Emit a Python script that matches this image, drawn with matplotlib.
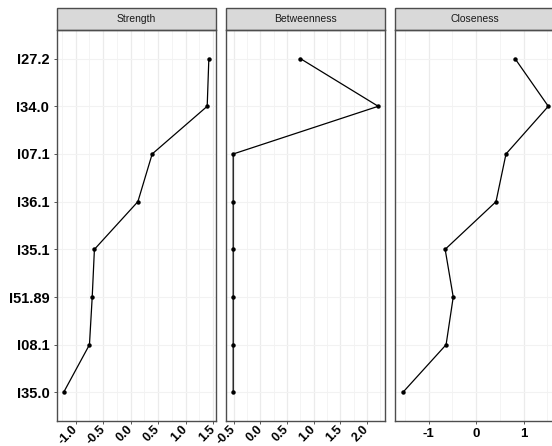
import matplotlib.pyplot as plt
from matplotlib.patches import Rectangle
from matplotlib.ticker import MultipleLocator

# nodes, top to bottom
nodes = ["I27.2", "I34.0", "I07.1", "I36.1", "I35.1", "I51.89", "I08.1", "I35.0"]

strength = [1.42, 1.39, 0.39, 0.13, -0.66, -0.70, -0.75, -1.22]
betweenness = [0.75, 2.21, -0.51, -0.51, -0.51, -0.51, -0.51, -0.51]
closeness = [0.82, 1.52, 0.63, 0.42, -0.65, -0.48, -0.63, -1.54]

titles = ["Strength", "Betweenness", "Closeness"]
series = [strength, betweenness, closeness]
xlims = [(-1.34, 1.55), (-0.645, 2.337), (-1.705, 1.64)]
majors = [0.5, 0.5, 1.0]

W, H = 552, 446
fig = plt.figure(figsize=(W / 100, H / 100), dpi=100)
fig.patch.set_facecolor("white")

lefts = [57, 226, 395]
pw = 159
top_px, bot_px = 30, 421
strip_h = 22

border = "#4D4D4D"
ypos = list(range(len(nodes), 0, -1))

for i in range(3):
    ax = fig.add_axes([lefts[i] / W, 1 - bot_px / H, pw / W, (bot_px - top_px) / H])
    ax.set_xlim(*xlims[i])
    ax.set_ylim(0.4, len(nodes) + 0.6)
    ax.xaxis.set_major_locator(MultipleLocator(majors[i]))
    ax.xaxis.set_minor_locator(MultipleLocator(majors[i] / 2))
    ax.grid(which="major", axis="x", color="#EBEBEB", lw=0.9)
    ax.grid(which="minor", axis="x", color="#F2F2F2", lw=0.6)
    ax.grid(which="major", axis="y", color="#F2F2F2", lw=0.8)
    ax.set_axisbelow(True)
    ax.plot(series[i], ypos, color="black", lw=0.9, marker="o", ms=3.2,
            markeredgewidth=0, zorder=3)
    ax.set_yticks(ypos)
    for s in ax.spines.values():
        s.set_color(border)
        s.set_linewidth(1.0)
    ax.tick_params(axis="both", which="major", length=2, color="#555555", width=0.7)
    ax.tick_params(axis="x", which="minor", length=0)
    if i == 0:
        ax.set_yticklabels(nodes, fontsize=10.5, fontweight="bold",
                           family=["Liberation Sans", "DejaVu Sans"])
    else:
        ax.set_yticklabels([])
        ax.tick_params(axis="y", length=0)
    if i < 2:
        labs = ["%.1f" % v for v in ax.get_xticks()]
        ax.set_xticks(ax.get_xticks())
        ax.set_xticklabels(labs, rotation=45, ha="right", va="center",
                           rotation_mode="anchor", fontsize=9, fontweight="bold",
                           family=["Liberation Sans Narrow", "Liberation Sans", "DejaVu Sans"])
        ax.set_xlim(*xlims[i])
        ax.tick_params(axis="x", pad=3)
    else:
        ax.set_xticks([-1, 0, 1])
        ax.set_xticklabels(["-1", "0", "1"], fontsize=9.5, fontweight="bold",
                           family=["Liberation Sans", "DejaVu Sans"])
        ax.set_xlim(*xlims[i])
        ax.tick_params(axis="x", pad=3)
    # strip on top of each panel
    sh = strip_h / (bot_px - top_px)
    ax.add_patch(Rectangle((0, 1), 1, sh, transform=ax.transAxes, clip_on=False,
                           facecolor="#D9D9D9", edgecolor=border, lw=1.0))
    ax.text(0.5, 1 + sh / 2, titles[i], transform=ax.transAxes, ha="center",
            va="center", fontsize=7.5, color="#1A1A1A",
            family=["Liberation Sans", "DejaVu Sans"])

fig.savefig("out.png", dpi=100)
